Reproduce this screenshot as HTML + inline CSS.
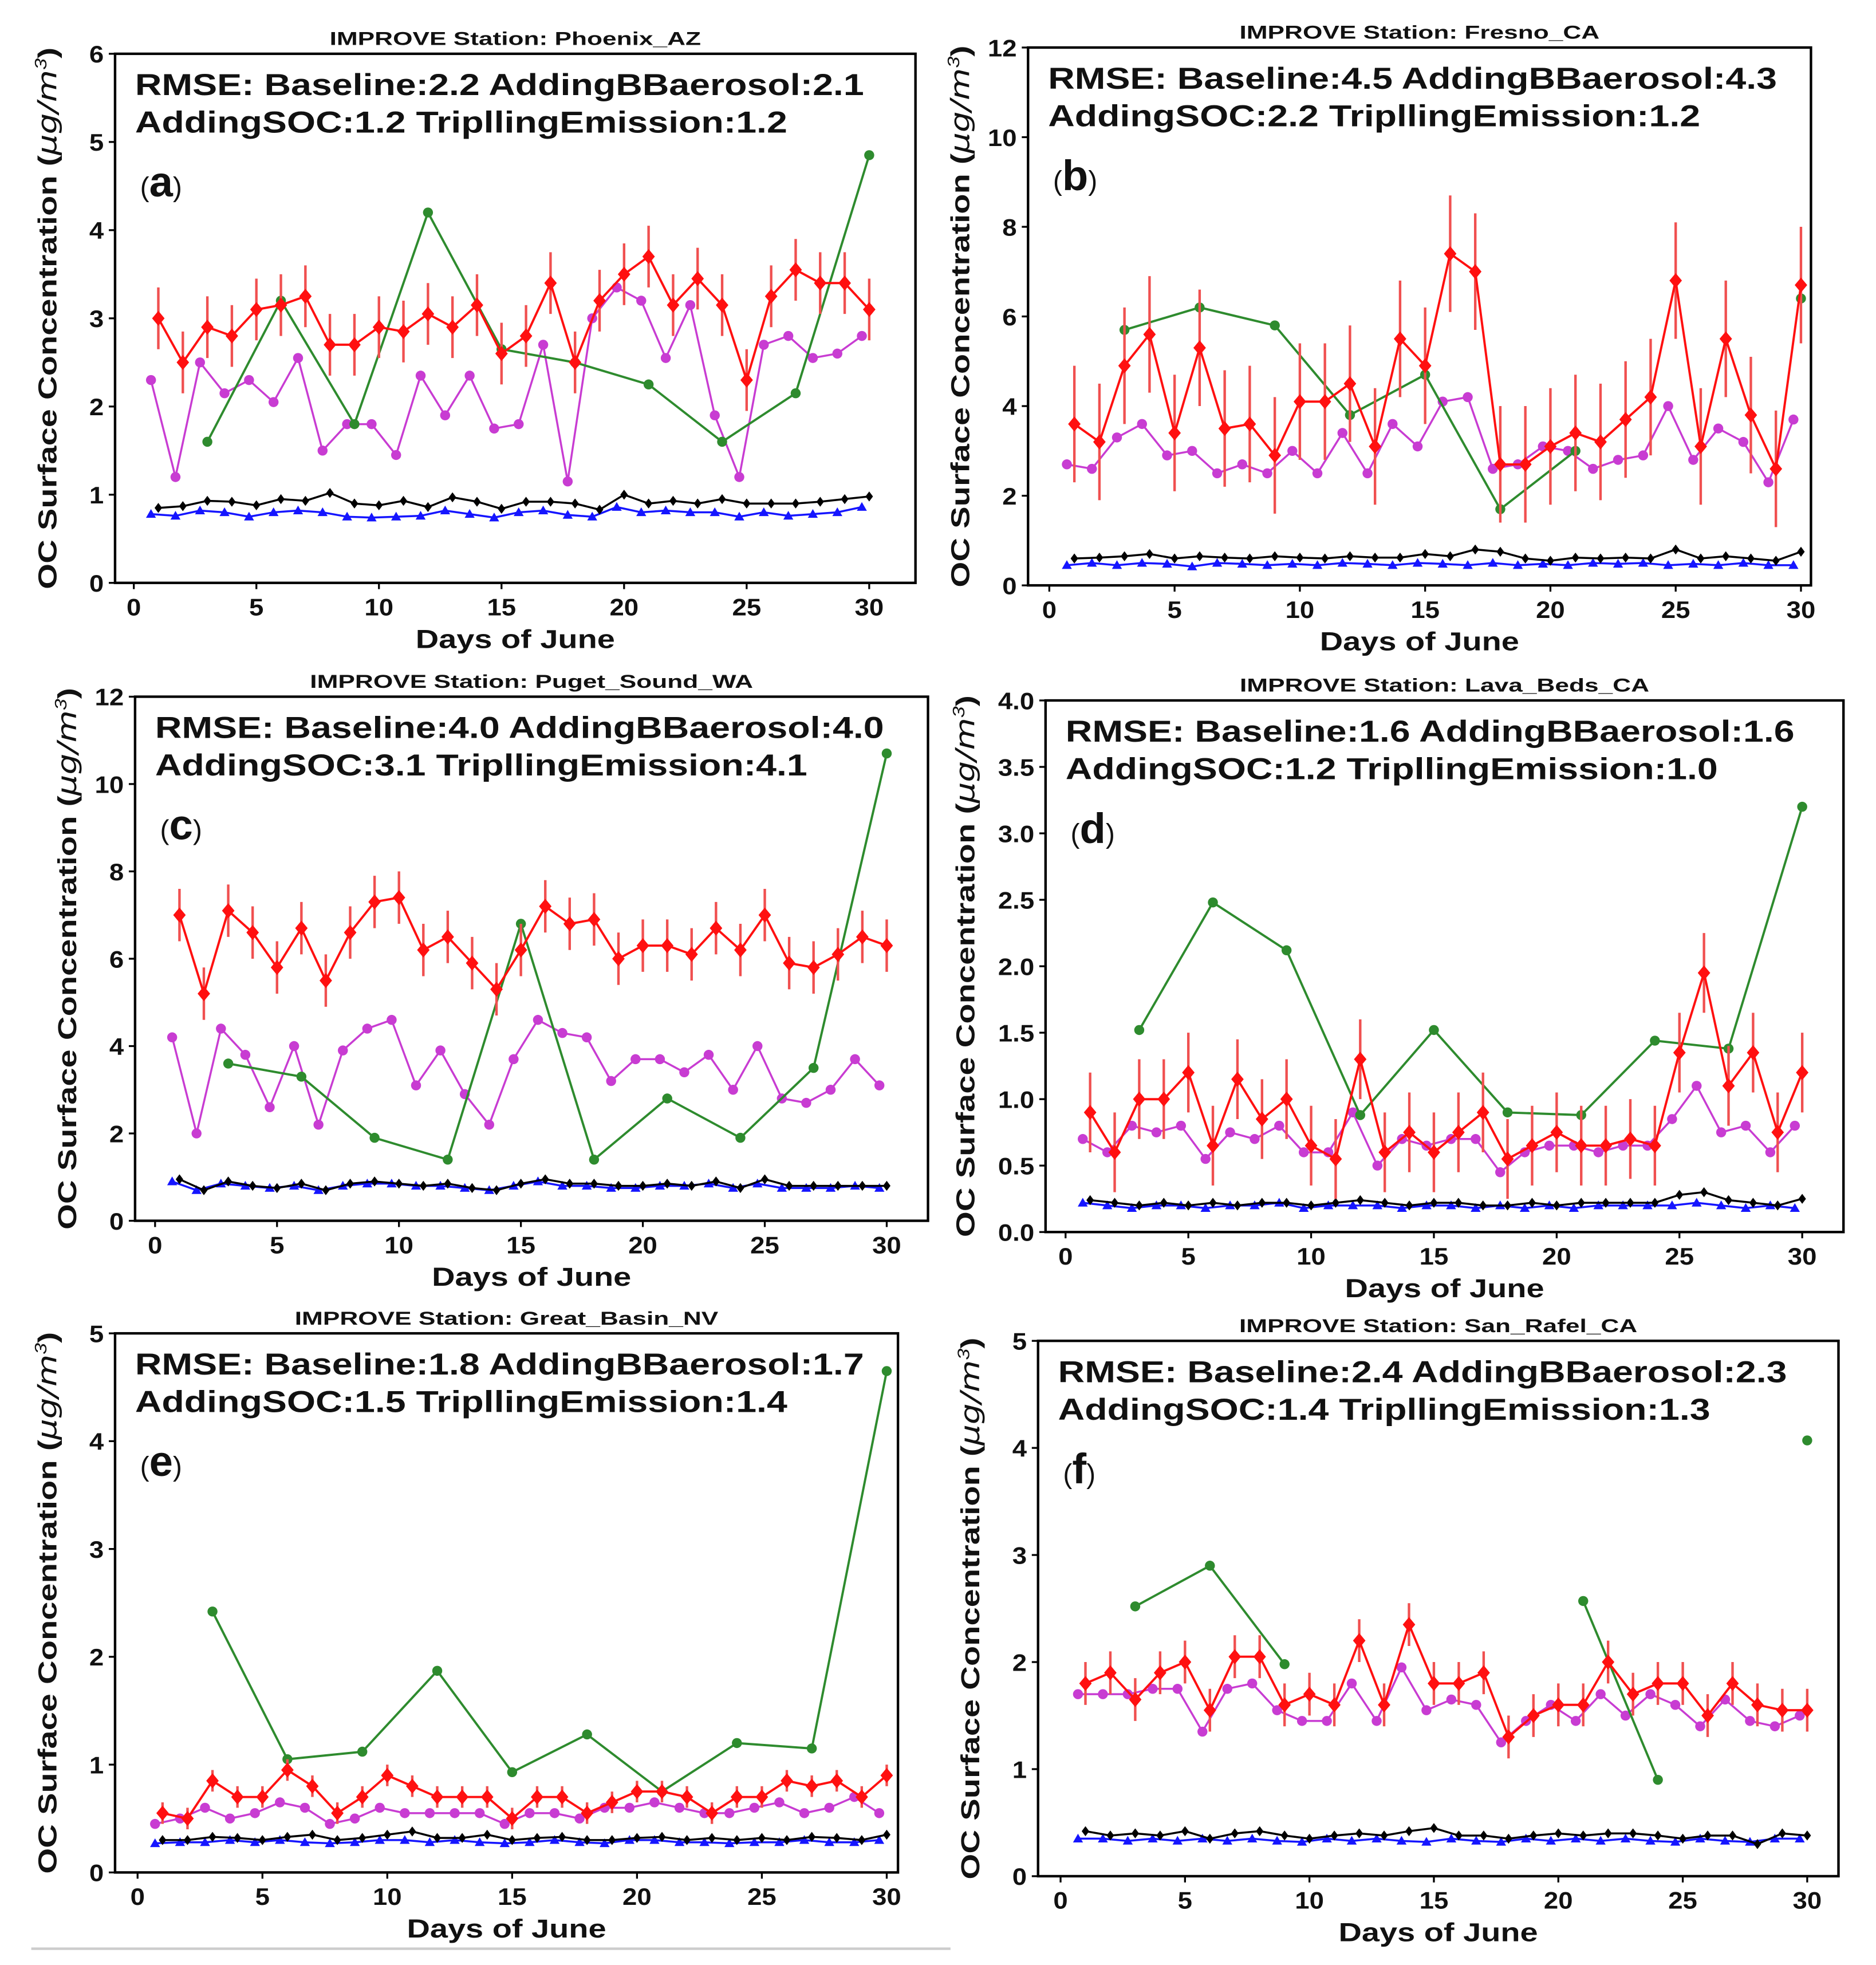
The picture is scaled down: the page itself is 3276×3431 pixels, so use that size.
<!DOCTYPE html>
<html><head><meta charset="utf-8"><style>
html,body{margin:0;padding:0;background:#fff}
svg{display:block}
text{font-family:"Liberation Sans",sans-serif;font-weight:bold;fill:#111}
</style></head><body>
<svg id="fig" xmlns="http://www.w3.org/2000/svg" width="3276" height="3431" viewBox="0 0 1500 1571" preserveAspectRatio="none">
<line x1="25" y1="1558" x2="760" y2="1558" stroke="#ccc" stroke-width="2"/>
</svg>
<script>
const days=[1,2,3,4,5,6,7,8,9,10,11,12,13,14,15,16,17,18,19,20,21,22,23,24,25,26,27,28,29,30];
const greenDays=[3,6,9,12,15,18,21,24,27,30];
const xTicks=[0,5,10,15,20,25,30];

const aRed=[3.0,2.5,2.9,2.8,3.1,3.15,3.25,2.7,2.7,2.9,2.85,3.05,2.9,3.15,2.6,2.8,3.4,2.5,3.2,3.5,3.7,3.15,3.45,3.15,2.3,3.25,3.55,3.4,3.4,3.1];
const aMag=[2.3,1.2,2.5,2.15,2.3,2.05,2.55,1.5,1.8,1.8,1.45,2.35,1.9,2.35,1.75,1.8,2.7,1.15,3.0,3.35,3.2,2.55,3.15,1.9,1.2,2.7,2.8,2.55,2.6,2.8];
const aGreen=[1.6,3.2,1.8,4.2,2.65,2.5,2.25,1.6,2.15,4.85];
const aBlack=[0.85,0.87,0.93,0.92,0.88,0.95,0.93,1.02,0.9,0.88,0.93,0.86,0.97,0.92,0.84,0.92,0.92,0.9,0.83,1.0,0.9,0.93,0.9,0.95,0.9,0.9,0.9,0.92,0.95,0.98];
const aBlue=[0.78,0.76,0.82,0.8,0.75,0.8,0.82,0.8,0.75,0.74,0.75,0.76,0.82,0.78,0.74,0.8,0.82,0.77,0.75,0.86,0.8,0.82,0.8,0.8,0.75,0.8,0.76,0.78,0.8,0.86];

const bRed=[3.6,3.2,4.9,5.6,3.4,5.3,3.5,3.6,2.9,4.1,4.1,4.5,3.1,5.5,4.9,7.4,7.0,2.7,2.7,3.1,3.4,3.2,3.7,4.2,6.8,3.1,5.5,3.8,2.6,6.7];
const bMag=[2.7,2.6,3.3,3.6,2.9,3.0,2.5,2.7,2.5,3.0,2.5,3.4,2.5,3.6,3.1,4.1,4.2,2.6,2.7,3.1,3.0,2.6,2.8,2.9,4.0,2.8,3.5,3.2,2.3,3.7];
const bGreen=[5.7,6.2,5.8,3.8,4.7,1.7,3.0,null,null,6.4];
const bBlack=[0.6,0.62,0.65,0.7,0.6,0.65,0.62,0.6,0.65,0.62,0.6,0.65,0.62,0.62,0.7,0.65,0.8,0.75,0.6,0.55,0.62,0.6,0.62,0.6,0.8,0.6,0.65,0.6,0.55,0.75];
const bBlue=[0.45,0.5,0.45,0.5,0.48,0.42,0.5,0.48,0.45,0.48,0.45,0.5,0.48,0.45,0.5,0.48,0.45,0.5,0.45,0.48,0.45,0.5,0.48,0.5,0.45,0.48,0.45,0.5,0.45,0.45];

const cRed=[7.0,5.2,7.1,6.6,5.8,6.7,5.5,6.6,7.3,7.4,6.2,6.5,5.9,5.3,6.2,7.2,6.8,6.9,6.0,6.3,6.3,6.1,6.7,6.2,7.0,5.9,5.8,6.1,6.5,6.3];
const cMag=[4.2,2.0,4.4,3.8,2.6,4.0,2.2,3.9,4.4,4.6,3.1,3.9,2.9,2.2,3.7,4.6,4.3,4.2,3.2,3.7,3.7,3.4,3.8,3.0,4.0,2.8,2.7,3.0,3.7,3.1];
const cGreen=[3.6,3.3,1.9,1.4,6.8,1.4,2.8,1.9,3.5,10.7];
const cBlack=[0.95,0.7,0.9,0.8,0.75,0.85,0.7,0.85,0.9,0.85,0.8,0.85,0.75,0.7,0.85,0.95,0.85,0.85,0.8,0.8,0.85,0.8,0.9,0.75,0.95,0.8,0.8,0.8,0.8,0.8];
const cBlue=[0.9,0.7,0.85,0.8,0.75,0.8,0.7,0.8,0.85,0.85,0.8,0.8,0.75,0.7,0.8,0.9,0.8,0.8,0.75,0.75,0.8,0.8,0.85,0.75,0.85,0.75,0.75,0.75,0.8,0.75];

const dRed=[0.9,0.6,1.0,1.0,1.2,0.65,1.15,0.85,1.0,0.65,0.55,1.3,0.6,0.75,0.6,0.75,0.9,0.55,0.65,0.75,0.65,0.65,0.7,0.65,1.35,1.95,1.1,1.35,0.75,1.2];
const dMag=[0.7,0.6,0.8,0.75,0.8,0.55,0.75,0.7,0.8,0.6,0.6,0.9,0.5,0.7,0.65,0.7,0.7,0.45,0.6,0.65,0.65,0.6,0.65,0.65,0.85,1.1,0.75,0.8,0.6,0.8];
const dGreen=[1.52,2.48,2.12,0.88,1.52,0.9,0.88,1.44,1.38,3.2];
const dBlack=[0.24,0.22,0.2,0.22,0.2,0.22,0.2,0.22,0.22,0.2,0.22,0.24,0.22,0.2,0.22,0.22,0.2,0.2,0.22,0.2,0.22,0.22,0.22,0.22,0.28,0.3,0.24,0.22,0.2,0.25];
const dBlue=[0.22,0.2,0.18,0.2,0.2,0.18,0.2,0.2,0.22,0.18,0.2,0.2,0.2,0.18,0.2,0.2,0.18,0.2,0.18,0.2,0.18,0.2,0.2,0.2,0.2,0.22,0.2,0.18,0.2,0.18];

const eRed=[0.55,0.5,0.85,0.7,0.7,0.95,0.8,0.55,0.7,0.9,0.8,0.7,0.7,0.7,0.5,0.7,0.7,0.55,0.65,0.75,0.75,0.7,0.55,0.7,0.7,0.85,0.8,0.85,0.7,0.9];
const eMag=[0.45,0.5,0.6,0.5,0.55,0.65,0.6,0.45,0.5,0.6,0.55,0.55,0.55,0.55,0.45,0.55,0.55,0.5,0.6,0.6,0.65,0.6,0.55,0.55,0.6,0.65,0.55,0.6,0.7,0.55];
const eGreen=[2.42,1.05,1.12,1.87,0.93,1.28,0.75,1.2,1.15,4.65];
const eBlack=[0.3,0.3,0.33,0.32,0.3,0.33,0.35,0.3,0.32,0.35,0.38,0.32,0.32,0.35,0.3,0.32,0.33,0.3,0.3,0.32,0.33,0.3,0.32,0.3,0.32,0.3,0.33,0.32,0.3,0.35];
const eBlue=[0.27,0.28,0.28,0.3,0.28,0.3,0.28,0.27,0.28,0.3,0.3,0.28,0.3,0.28,0.27,0.28,0.3,0.28,0.27,0.3,0.3,0.28,0.28,0.27,0.28,0.28,0.3,0.28,0.28,0.3];

const fRed=[1.8,1.9,1.65,1.9,2.0,1.55,2.05,2.05,1.6,1.7,1.6,2.2,1.6,2.35,1.8,1.8,1.9,1.3,1.5,1.6,1.6,2.0,1.7,1.8,1.8,1.5,1.8,1.6,1.55,1.55];
const fMag=[1.7,1.7,1.7,1.75,1.75,1.35,1.75,1.8,1.55,1.45,1.45,1.8,1.45,1.95,1.55,1.65,1.6,1.25,1.45,1.6,1.45,1.7,1.5,1.7,1.6,1.4,1.65,1.45,1.4,1.5];
const fGreen=[2.52,2.9,1.98,null,null,null,2.57,0.9,null,4.07];
const fBlack=[0.42,0.38,0.4,0.38,0.42,0.35,0.4,0.42,0.38,0.35,0.38,0.4,0.38,0.42,0.45,0.38,0.38,0.35,0.38,0.4,0.38,0.4,0.4,0.38,0.35,0.38,0.38,0.3,0.4,0.38];
const fBlue=[0.35,0.35,0.33,0.35,0.33,0.35,0.33,0.35,0.33,0.32,0.35,0.33,0.35,0.33,0.32,0.35,0.33,0.32,0.35,0.33,0.35,0.33,0.35,0.33,0.32,0.35,0.33,0.32,0.35,0.35];

const NS="http://www.w3.org/2000/svg";
const svg=document.getElementById('fig');
function mk(tag,attrs,parent,txt){const e=document.createElementNS(NS,tag);for(const k in attrs)e.setAttribute(k,attrs[k]);if(txt!==undefined)e.textContent=txt;(parent||svg).appendChild(e);return e;}
function widen(el,f){try{const w=el.getComputedTextLength();el.setAttribute('textLength',(w*f).toFixed(1));el.setAttribute('lengthAdjust','spacingAndGlyphs');}catch(e){}}

const panels=[
 {id:'a',title:'IMPROVE Station: Phoenix_AZ',box:[92,43,732,466],x0:107,x30:695,ymax:6,yt:[0,1,2,3,4,5,6],r1:'RMSE: Baseline:2.2 AddingBBaerosol:2.1',r2:'AddingSOC:1.2 TripllingEmission:1.2',err:0.35,red:aRed,mag:aMag,green:aGreen,black:aBlack,blue:aBlue},
 {id:'b',title:'IMPROVE Station: Fresno_CA',box:[822,38,1448,468],x0:839,x30:1440,ymax:12,yt:[0,2,4,6,8,10,12],r1:'RMSE: Baseline:4.5 AddingBBaerosol:4.3',r2:'AddingSOC:2.2 TripllingEmission:1.2',err:1.3,red:bRed,mag:bMag,green:bGreen,black:bBlack,blue:bBlue},
 {id:'c',title:'IMPROVE Station: Puget_Sound_WA',box:[108,557,742,976],x0:124,x30:709,ymax:12,yt:[0,2,4,6,8,10,12],r1:'RMSE: Baseline:4.0 AddingBBaerosol:4.0',r2:'AddingSOC:3.1 TripllingEmission:4.1',err:0.6,red:cRed,mag:cMag,green:cGreen,black:cBlack,blue:cBlue},
 {id:'d',title:'IMPROVE Station: Lava_Beds_CA',box:[836,560,1474,985],x0:852,x30:1441,ymax:4,yt:[0,0.5,1,1.5,2,2.5,3,3.5,4],r1:'RMSE: Baseline:1.6 AddingBBaerosol:1.6',r2:'AddingSOC:1.2 TripllingEmission:1.0',err:0.3,red:dRed,mag:dMag,green:dGreen,black:dBlack,blue:dBlue},
 {id:'e',title:'IMPROVE Station: Great_Basin_NV',box:[92,1066,718,1497],x0:110,x30:709,ymax:5,yt:[0,1,2,3,4,5],r1:'RMSE: Baseline:1.8 AddingBBaerosol:1.7',r2:'AddingSOC:1.5 TripllingEmission:1.4',err:0.1,red:eRed,mag:eMag,green:eGreen,black:eBlack,blue:eBlue},
 {id:'f',title:'IMPROVE Station: San_Rafel_CA',box:[830,1072,1470,1500],x0:848,x30:1445,ymax:5,yt:[0,1,2,3,4,5],r1:'RMSE: Baseline:2.4 AddingBBaerosol:2.3',r2:'AddingSOC:1.4 TripllingEmission:1.3',err:0.2,red:fRed,mag:fMag,green:fGreen,black:fBlack,blue:fBlue}
];

function fmt(v,ymax){return ymax===4?v.toFixed(1):String(v);}

panels.forEach(p=>{
 const [L,T,R,B]=p.box;
 const g=mk('g',{});
 
 
 const X=d=>p.x0+(p.x30-p.x0)*d/30;
 const Y=v=>B-(B-T)*v/p.ymax;
 const t=mk('text',{x:(L+R)/2,y:T-7,'font-size':15,'text-anchor':'middle'},g,p.title);
 
 
 widen(t,1.35);
 xTicks.forEach(v=>{
  mk('line',{x1:X(v),x2:X(v),y1:B,y2:B+5,stroke:'#000','stroke-width':1.5},g);
  const tl=mk('text',{x:X(v),y:B+26,'font-size':19,'text-anchor':'middle'},g,String(v));
  
  
  widen(tl,1.1);
 });
 p.yt.forEach(v=>{
  mk('line',{x1:L-5,x2:L,y1:Y(v),y2:Y(v),stroke:'#000','stroke-width':1.5},g);
  const tl=mk('text',{x:L-9,y:Y(v)+7,'font-size':19,'text-anchor':'end'},g,fmt(v,p.ymax));
  
  
  widen(tl,1.1);
 });
 const xl=mk('text',{x:(L+R)/2,y:B+52,'font-size':21,'text-anchor':'middle'},g,'Days of June');
 
 
 widen(xl,1.22);
 const cy=(T+B)/2, cx=L-(p.ymax===4?57:47);
 const yl=mk('text',{x:cx,y:cy,'font-size':21,'text-anchor':'middle',transform:`rotate(-90 ${cx} ${cy})`},g);
 
 
 mk('tspan',{},yl,'OC Surface Concentration (');
 mk('tspan',{'font-style':'italic','font-weight':'normal','font-family':'DejaVu Sans, sans-serif'},yl,'μg/m');
 mk('tspan',{'font-style':'italic','font-weight':'normal','font-size':13,dy:-8},yl,'3');
 mk('tspan',{dy:8},yl,')');
 widen(yl,1.26);
 const line=(xs,ys,col,w,name)=>{
  let d='',pen=false;
  ys.forEach((v,i)=>{if(v===null){pen=false;return;}d+=(pen?'L':'M')+X(xs[i]).toFixed(1)+' '+Y(v).toFixed(1);pen=true;});
  const e=mk('path',{d:d,fill:'none',stroke:col,'stroke-width':w},g);
  
  
 };
 const bxs=days.map(d=>d-0.3), mxs=days.map(d=>d-0.3);
 line(bxs,p.blue,'#1515ff',1.6,'baseline-line');
 p.blue.forEach((v,i)=>{const x=X(bxs[i]),y=Y(v);const e=mk('path',{d:`M${x} ${y-4}L${x+4} ${y+3}L${x-4} ${y+3}Z`,fill:'#1515ff'},g);
  
  });
 line(days,p.black,'#000',1.6,'bb-aerosol-line');
 p.black.forEach((v,i)=>{const x=X(days[i]),y=Y(v);const e=mk('path',{d:`M${x} ${y-4}L${x+3} ${y}L${x} ${y+4}L${x-3} ${y}Z`,fill:'#000'},g);
  
  });
 line(mxs,p.mag,'#c83cd2',1.6,'soc-line');
 p.mag.forEach((v,i)=>{const e=mk('circle',{cx:X(mxs[i]),cy:Y(v),r:4,fill:'#c83cd2'},g);
  
  });
 line(greenDays,p.green,'#2e8b2e',1.8,'tripling-line');
 p.green.forEach((v,i)=>{if(v===null)return;const e=mk('circle',{cx:X(greenDays[i]),cy:Y(v),r:4,fill:'#2e8b2e'},g);
  
  });
 p.red.forEach((v,i)=>{const e=mk('line',{x1:X(days[i]),x2:X(days[i]),y1:Y(v+p.err),y2:Y(Math.max(0,v-p.err)),stroke:'#f05050','stroke-width':2},g);
  
  });
 line(days,p.red,'#ff1010',1.8,'observation-line');
 p.red.forEach((v,i)=>{const x=X(days[i]),y=Y(v);const e=mk('path',{d:`M${x} ${y-6}L${x+5} ${y}L${x} ${y+6}L${x-5} ${y}Z`,fill:'#ff1010'},g);
  
  });
 mk('rect',{x:L,y:T,width:R-L,height:B-T,fill:'none',stroke:'#000','stroke-width':2},g);
 const r1=mk('text',{x:L+16,y:T+33,'font-size':24},g,p.r1);
 
 
 widen(r1,1.23);
 const r2=mk('text',{x:L+16,y:T+63,'font-size':24},g,p.r2);
 
 
 widen(r2,1.23);
 const pl=mk('text',{x:L+20,y:T+114,'font-size':22},g);
 
 
 mk('tspan',{'font-weight':'normal'},pl,'(');
 mk('tspan',{'font-size':34},pl,p.id);
 mk('tspan',{'font-weight':'normal'},pl,')');
});
</script>
</body></html>
